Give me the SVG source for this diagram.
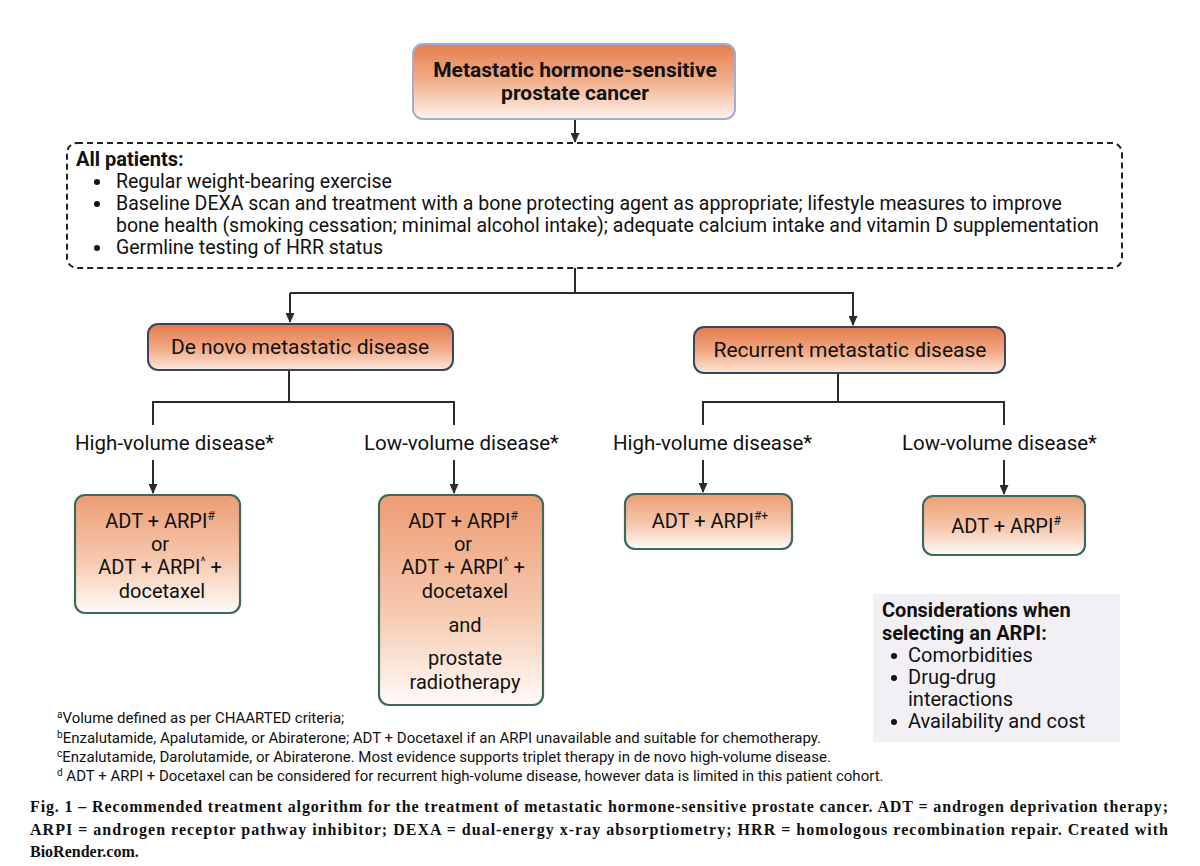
<svg xmlns="http://www.w3.org/2000/svg" width="1200" height="866" viewBox="0 0 1200 866">
<defs>
<linearGradient id="gTop" x1="0" y1="0" x2="0" y2="1">
<stop offset="0" stop-color="#e57d4c"/>
<stop offset="0.5" stop-color="#f2b08c"/>
<stop offset="1" stop-color="#fef4ef"/>
</linearGradient>
<linearGradient id="gMid" x1="0" y1="0" x2="0" y2="1">
<stop offset="0" stop-color="#e3794a"/>
<stop offset="0.55" stop-color="#f1ab87"/>
<stop offset="1" stop-color="#fde7dc"/>
</linearGradient>
<linearGradient id="gTreat" x1="0" y1="0" x2="0" y2="1">
<stop offset="0" stop-color="#ec9d74"/>
<stop offset="0.55" stop-color="#f6c8ae"/>
<stop offset="1" stop-color="#fffbf9"/>
</linearGradient>
<marker id="arr" viewBox="0 0 10 10" refX="9" refY="5" markerWidth="10" markerHeight="9" orient="auto" markerUnits="userSpaceOnUse" preserveAspectRatio="none">
<path d="M0,0 L10,5 L0,10 z" fill="#2b2b2b"/>
</marker>
</defs>
<style>
.t{font-family:Roboto,"Liberation Sans",Arial,sans-serif;fill:#111;}
.b{font-weight:bold;}
.ln{stroke:#2b2b2b;stroke-width:2;fill:none;}
.ar{stroke:#2b2b2b;stroke-width:2;fill:none;marker-end:url(#arr);}
.treat{fill:url(#gTreat);stroke:#3d6a5a;stroke-width:2.2;}
.mid{fill:url(#gMid);stroke:#37455f;stroke-width:2;}
.sup{font-size:12px;}
.lab{font-size:20.5px;}
.cap{font-family:"Liberation Serif","Times New Roman",serif;font-weight:bold;font-size:16px;fill:#111;}
.fn{font-family:Roboto,"Liberation Sans",Arial,sans-serif;font-size:15px;fill:#111;}
</style>
<rect width="1200" height="866" fill="#ffffff"/>

<g id="connectors">
<path class="ar" d="M575,119 V142"/>
<path class="ln" d="M575,268 V293"/>
<path class="ar" d="M290,293 H853 V325"/>
<path class="ar" d="M290,293 V322"/>
<path class="ln" d="M289,370 V402 M153,425 V402 H454 V425"/>
<path class="ar" d="M153,460 V493"/>
<path class="ar" d="M454,460 V493"/>
<path class="ln" d="M838,373 V402 M703,425 V402 H1004 V425"/>
<path class="ar" d="M703,460 V492"/>
<path class="ar" d="M1004,460 V494"/>
</g>

<g id="node-mhspc">
<rect x="413" y="44" width="322" height="75" rx="10" fill="url(#gTop)" stroke="#a3acd6" stroke-width="2"/>
<text class="t b" x="575" y="77" font-size="21" text-anchor="middle">Metastatic hormone-sensitive</text>
<text class="t b" x="575" y="100" font-size="21" text-anchor="middle">prostate cancer</text>
</g>

<g id="node-all-patients">
<rect x="67" y="143" width="1055" height="125" rx="10" fill="none" stroke="#222" stroke-width="2" stroke-dasharray="6,4"/>
<text class="t b" x="76" y="166" font-size="20">All patients:</text>
<g class="t" font-size="19.5">
<circle cx="97" cy="182" r="3" fill="#111"/>
<text x="116" y="188">Regular weight-bearing exercise</text>
<circle cx="97" cy="204" r="3" fill="#111"/>
<text x="116" y="210">Baseline DEXA scan and treatment with a bone protecting agent as appropriate; lifestyle measures to improve</text>
<text x="116" y="232">bone health (smoking cessation; minimal alcohol intake); adequate calcium intake and vitamin D supplementation</text>
<circle cx="97" cy="248" r="3" fill="#111"/>
<text x="116" y="254">Germline testing of HRR status</text>
</g>
</g>

<g id="node-denovo">
<rect class="mid" x="148" y="324" width="305" height="46" rx="10"/>
<text class="t" x="300" y="354" font-size="21" text-anchor="middle">De novo metastatic disease</text>
</g>

<g id="node-recurrent">
<rect class="mid" x="694" y="327" width="311" height="46" rx="10"/>
<text class="t" x="850" y="357" font-size="21" text-anchor="middle">Recurrent metastatic disease</text>
</g>

<g id="label-dn-high"><text class="t lab" x="75" y="450">High-volume disease*</text></g>
<g id="label-dn-low"><text class="t lab" x="364" y="450">Low-volume disease*</text></g>
<g id="label-rec-high"><text class="t lab" x="613" y="450">High-volume disease*</text></g>
<g id="label-rec-low"><text class="t lab" x="902" y="450">Low-volume disease*</text></g>

<g id="node-dn-high-tx">
<rect class="treat" x="75" y="495" width="165" height="118" rx="10"/>
<g class="t" font-size="20" text-anchor="middle">
<text x="160" y="528">ADT + ARPI<tspan class="sup" dy="-8">#</tspan></text>
<text x="160" y="551">or</text>
<text x="160" y="574">ADT + ARPI<tspan class="sup" dy="-8">^</tspan><tspan dy="8"> +</tspan></text>
<text x="162" y="598">docetaxel</text>
</g>
</g>

<g id="node-dn-low-tx">
<rect class="treat" x="379" y="495" width="164" height="210" rx="10"/>
<g class="t" font-size="20" text-anchor="middle">
<text x="463" y="528">ADT + ARPI<tspan class="sup" dy="-8">#</tspan></text>
<text x="463" y="551">or</text>
<text x="463" y="574">ADT + ARPI<tspan class="sup" dy="-8">^</tspan><tspan dy="8"> +</tspan></text>
<text x="465" y="598">docetaxel</text>
<text x="465" y="632">and</text>
<text x="465" y="665">prostate</text>
<text x="465" y="689">radiotherapy</text>
</g>
</g>

<g id="node-rec-high-tx">
<rect class="treat" x="625" y="494" width="167" height="55" rx="10"/>
<text class="t" x="710" y="528" font-size="20" text-anchor="middle">ADT + ARPI<tspan class="sup" dy="-8">#+</tspan></text>
</g>

<g id="node-rec-low-tx">
<rect class="treat" x="923" y="496" width="162" height="59" rx="10"/>
<text class="t" x="1006" y="533" font-size="20" text-anchor="middle">ADT + ARPI<tspan class="sup" dy="-8">#</tspan></text>
</g>

<g id="node-considerations">
<rect x="873" y="594" width="247" height="148" fill="#f3f0f5"/>
<g class="t" font-size="20">
<text class="b" x="882" y="617">Considerations when</text>
<text class="b" x="882" y="640">selecting an ARPI:</text>
<circle cx="894" cy="656" r="3" fill="#111"/>
<text x="908" y="662">Comorbidities</text>
<circle cx="894" cy="678" r="3" fill="#111"/>
<text x="908" y="684">Drug-drug</text>
<text x="908" y="706">interactions</text>
<circle cx="894" cy="722" r="3" fill="#111"/>
<text x="908" y="728">Availability and cost</text>
</g>
</g>

<g id="footnotes">
<text class="fn" x="57" y="723"><tspan font-size="10" dy="-5">a</tspan><tspan dy="5">Volume defined as per CHAARTED criteria;</tspan></text>
<text class="fn" x="57" y="743"><tspan font-size="10" dy="-5">b</tspan><tspan dy="5">Enzalutamide, Apalutamide, or Abiraterone; ADT + Docetaxel if an ARPI unavailable and suitable for chemotherapy.</tspan></text>
<text class="fn" x="57" y="762"><tspan font-size="10" dy="-5">c</tspan><tspan dy="5">Enzalutamide, Darolutamide, or Abiraterone. Most evidence supports triplet therapy in de novo high-volume disease.</tspan></text>
<text class="fn" x="57" y="781"><tspan font-size="10" dy="-5">d</tspan><tspan dy="5"> ADT + ARPI + Docetaxel can be considered for recurrent high-volume disease, however data is limited in this patient cohort.</tspan></text>
</g>

<g id="caption">
<text class="cap" x="30" y="812" textLength="1138" lengthAdjust="spacing">Fig. 1 – Recommended treatment algorithm for the treatment of metastatic hormone-sensitive prostate cancer. ADT = androgen deprivation therapy;</text>
<text class="cap" x="30" y="835" textLength="1138" lengthAdjust="spacing">ARPI = androgen receptor pathway inhibitor; DEXA = dual-energy x-ray absorptiometry; HRR = homologous recombination repair. Created with</text>
<text class="cap" x="30" y="857">BioRender.com.</text>
</g>
</svg>
